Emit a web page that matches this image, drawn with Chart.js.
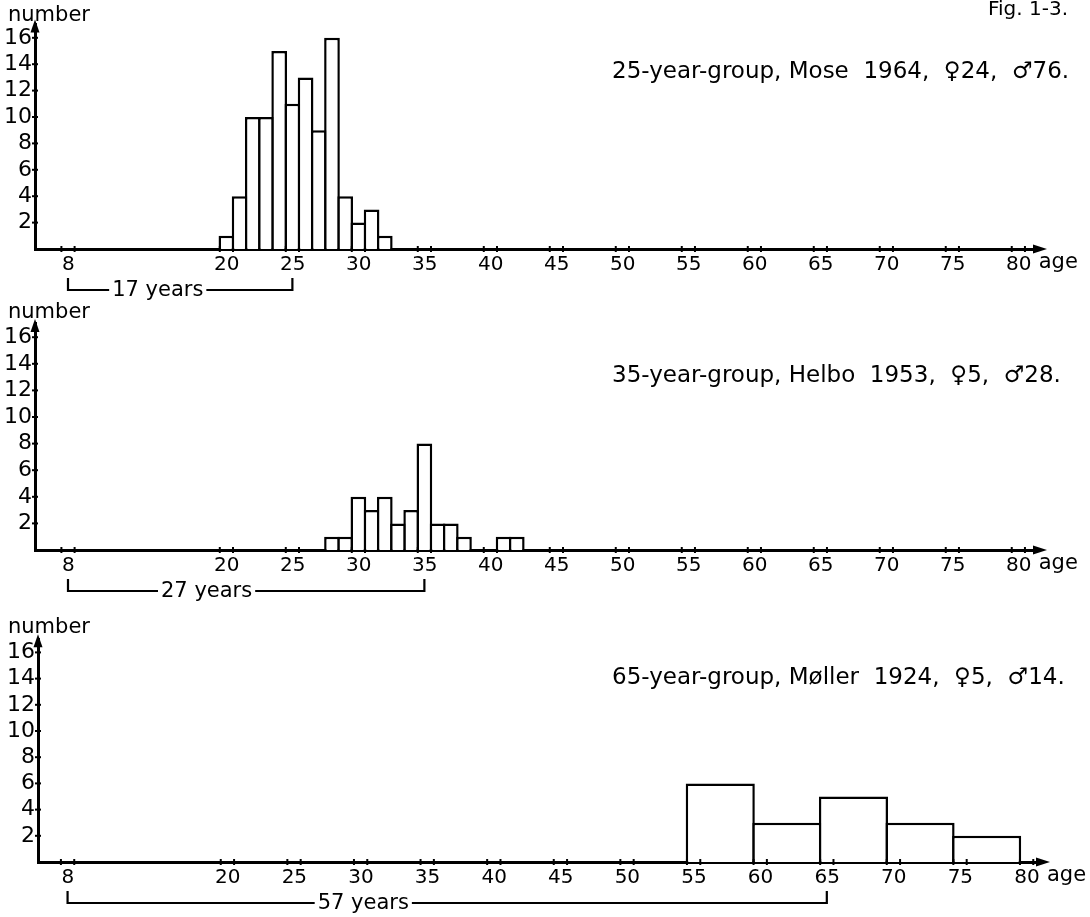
<!DOCTYPE html>
<html>
<head>
<meta charset="utf-8">
<script src="https://cdn.jsdelivr.net/npm/chart.js@4.4.1/dist/chart.umd.min.js"></script>
<style>
  body { margin: 0; background: #fff; }
  canvas { display: block; }
</style>
</head>
<body>
<canvas id="panel25" width="1090" height="300"></canvas>
<canvas id="panel35" width="1090" height="312"></canvas>
<canvas id="panel65" width="1090" height="305"></canvas>
<script>
// Age distributions: first age of each bin and number of persons in it
const binStarts25 = [20, 21, 22, 23, 24, 25, 26, 27, 28, 29, 30, 31, 32];
const counts25 = [1, 4, 10, 10, 15, 11, 13, 9, 16, 4, 2, 3, 1];
const binStarts35 = [28, 29, 30, 31, 32, 33, 34, 35, 36, 37, 38, 41, 42];
const counts35 = [1, 1, 4, 3, 4, 2, 3, 8, 2, 2, 1, 1, 1];
const binStarts65 = [55, 60, 65, 70, 75];
const counts65 = [6, 3, 5, 3, 2];

// Axis ticks
const ageTicks = [8, 20, 25, 30, 35, 40, 45, 50, 55, 60, 65, 70, 75, 80];
const countTicks = [2, 4, 6, 8, 10, 12, 14, 16];

// Panel texts
const title25 = "25-year-group, Mose  1964,  \u264024,  \u264276.";
const title35 = "35-year-group, Helbo  1953,  \u26405,  \u264228.";
const title65 = "65-year-group, M\u00f8ller  1924,  \u26405,  \u264214.";

const FONT = '"DejaVu Sans", sans-serif';
const INK = "#000";
const LINE = 2.5;
const Y_MAX = 17;

// Arrows, ticks, labels and the "years" bracket under the axis
const decor = {
  id: "decor",
  afterDraw(chart, args, opts) {
    const { ctx, chartArea: area, scales } = chart;
    const x = scales.x;
    const y = scales.y;
    const base = area.bottom;
    ctx.save();
    ctx.strokeStyle = INK;
    ctx.fillStyle = INK;
    ctx.lineWidth = 2;

    // small cross ticks on the age axis (two per label)
    ageTicks.forEach((v) => {
      [v, v + 1].forEach((a) => {
        const px = x.getPixelForValue(a);
        ctx.beginPath();
        ctx.moveTo(px, base - 3);
        ctx.lineTo(px, base + 3);
        ctx.stroke();
      });
    });
    // cross ticks on the count axis
    countTicks.forEach((v) => {
      const py = y.getPixelForValue(v);
      ctx.beginPath();
      ctx.moveTo(area.left - 3, py);
      ctx.lineTo(area.left + 3, py);
      ctx.stroke();
    });

    // arrow heads
    ctx.beginPath();
    ctx.moveTo(area.left, area.top - 5);
    ctx.lineTo(area.left - 4.5, area.top + 8);
    ctx.lineTo(area.left + 4.5, area.top + 8);
    ctx.closePath();
    ctx.fill();
    ctx.beginPath();
    ctx.moveTo(area.right + 7, base);
    ctx.lineTo(area.right - 7, base - 4.5);
    ctx.lineTo(area.right - 7, base + 4.5);
    ctx.closePath();
    ctx.fill();

    // axis names
    ctx.textBaseline = "middle";
    ctx.textAlign = "left";
    ctx.font = "21px " + FONT;
    ctx.fillText("number", 8, opts.numberY);
    ctx.fillText("age", x.getPixelForValue(80) + 27, base + 14);

    // group title
    ctx.font = "23px " + FONT;
    ctx.fillText(opts.title, 612, opts.titleY);
    if (opts.fig) {
      ctx.font = "20px " + FONT;
      ctx.textAlign = "right";
      ctx.fillText(opts.fig, 1068, 10);
    }

    // bracket from age 8 to the group age
    const x0 = x.getPixelForValue(opts.from + 0.5);
    const x1 = x.getPixelForValue(opts.to + 0.5);
    const xt = x.getPixelForValue(opts.textAt);
    const yb = base + 41;
    const label = opts.to - opts.from + " years";
    ctx.font = "21px " + FONT;
    ctx.textAlign = "center";
    const half = ctx.measureText(label).width / 2 + 3;
    ctx.lineWidth = 2.2;
    ctx.beginPath();
    ctx.moveTo(x0, base + 29);
    ctx.lineTo(x0, yb);
    ctx.lineTo(xt - half, yb);
    ctx.moveTo(xt + half, yb);
    ctx.lineTo(x1, yb);
    ctx.lineTo(x1, base + 29);
    ctx.stroke();
    ctx.fillText(label, xt, yb + 1);
    ctx.restore();
  },
};

function makePanel(id, starts, counts, binWidth, cfg) {
  const canvas = document.getElementById(id);
  const H = canvas.height;
  // widen bars by one border so neighbours share a single outline
  const binPx = (binWidth * (cfg.right - cfg.left)) / (cfg.xMax - cfg.xMin);
  return new Chart(canvas, {
    type: "bar",
    data: {
      datasets: [
        {
          data: starts.map((s, i) => ({ x: s + binWidth / 2, y: counts[i] })),
          backgroundColor: "#fff",
          borderColor: INK,
          borderWidth: LINE,
          barPercentage: 1 + LINE / binPx,
          categoryPercentage: 1,
        },
      ],
    },
    options: {
      responsive: false,
      animation: false,
      events: [],
      layout: {
        padding: {
          left: 0,
          right: 1090 - cfg.right,
          top: cfg.baseline - Y_MAX * cfg.unit,
          bottom: 0,
        },
      },
      plugins: {
        legend: { display: false },
        tooltip: { enabled: false },
        decor: cfg.decor,
      },
      scales: {
        x: {
          type: "linear",
          min: cfg.xMin,
          max: cfg.xMax,
          offset: false,
          grid: { display: false, drawTicks: false, offset: false },
          border: { display: true, color: INK, width: 3 },
          afterBuildTicks: (s) => {
            s.ticks = ageTicks.map((v) => ({ value: v }));
          },
          afterFit: (s) => {
            s.height = H - cfg.baseline;
          },
          ticks: {
            autoSkip: false,
            maxRotation: 0,
            labelOffset: 7,
            padding: 4,
            color: INK,
            font: { family: FONT, size: 20 },
          },
        },
        y: {
          min: 0,
          max: Y_MAX,
          grid: { display: false, drawTicks: false },
          border: { display: true, color: INK, width: 3 },
          afterBuildTicks: (s) => {
            s.ticks = countTicks.map((v) => ({ value: v }));
          },
          afterFit: (s) => {
            s.width = cfg.left;
          },
          ticks: {
            padding: 3,
            color: INK,
            font: { family: FONT, size: 22 },
          },
        },
      },
    },
    plugins: [decor],
  });
}

makePanel("panel25", binStarts25, counts25, 1, {
  baseline: 249, unit: 13.2, left: 35, right: 1040, xMin: 6, xMax: 82.14,
  decor: { title: title25, titleY: 72, numberY: 16, fig: "Fig. 1-3.", from: 8, to: 25, textAt: 15.3 },
});
makePanel("panel35", binStarts35, counts35, 1, {
  baseline: 250, unit: 13.3, left: 35, right: 1040, xMin: 6, xMax: 82.14,
  decor: { title: title35, titleY: 76, numberY: 13, from: 8, to: 35, textAt: 19 },
});
makePanel("panel65", binStarts65, counts65, 5, {
  baseline: 250, unit: 13.1, left: 38, right: 1043, xMin: 6.28, xMax: 81.73,
  decor: { title: title65, titleY: 66, numberY: 16, from: 8, to: 65, textAt: 30.7 },
});
</script>
</body>
</html>
